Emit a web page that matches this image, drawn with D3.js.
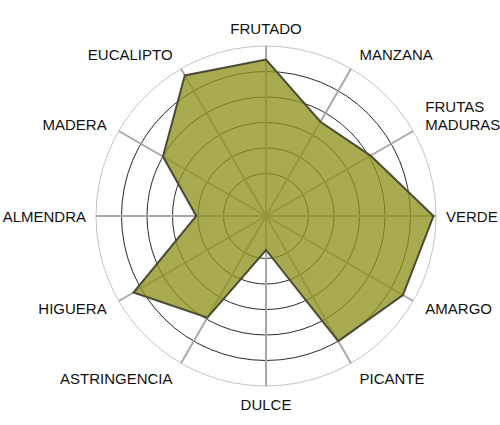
<!DOCTYPE html>
<html>
<head>
<meta charset="utf-8">
<script src="https://cdn.jsdelivr.net/npm/d3@7"></script>
<style>
  body { margin: 0; background: #fff; }
  text { font-family: "Liberation Sans", Arial, sans-serif; }
</style>
</head>
<body>
<div id="chart"></div>
<script>
const attributes = ["FRUTADO", "MANZANA", "FRUTAS MADURAS", "VERDE", "AMARGO", "PICANTE",
  "DULCE", "ASTRINGENCIA", "HIGUERA", "ALMENDRA", "MADERA", "EUCALIPTO"];
const scores = [9.2, 6.4, 7.1, 9.85, 9.3, 8.5, 2.0, 6.9, 9.0, 4.1, 7.0, 9.55];
const ringValues = [2.5, 4, 5.5, 7, 8.5];
const maxValue = 10;

const width = 500;
const height = 425;
const center = { x: 266, y: 216 };
const outerRadius = 170;

const svg = d3
  .select("#chart")
  .append("svg")
  .attr("width", width)
  .attr("height", height)
  .attr("viewBox", [0, 0, width, height]);

const g = svg.append("g").attr("transform", `translate(${center.x},${center.y})`);

const r = d3.scaleLinear().domain([0, maxValue]).range([0, outerRadius]);
const angle = d3
  .scaleLinear()
  .domain([0, attributes.length])
  .range([0, 2 * Math.PI]);

// rings
g.append("g")
  .selectAll("circle")
  .data(ringValues)
  .join("circle")
  .attr("r", (d) => r(d))
  .attr("fill", "none")
  .attr("stroke", "#2a2a2a")
  .attr("stroke-width", 1);

g.append("circle")
  .attr("r", r(maxValue))
  .attr("fill", "none")
  .attr("stroke", "#c4c4c4")
  .attr("stroke-width", 1);

// spokes
g.append("g")
  .selectAll("line")
  .data(attributes)
  .join("line")
  .attr("x1", 0)
  .attr("y1", 0)
  .attr("x2", (d, i) => Math.sin(angle(i)) * r(maxValue))
  .attr("y2", (d, i) => -Math.cos(angle(i)) * r(maxValue))
  .attr("stroke", "#a8a8a8")
  .attr("stroke-width", 2);

// profile
const area = d3
  .lineRadial()
  .angle((d, i) => angle(i))
  .radius((d) => r(d))
  .curve(d3.curveLinearClosed);

g.append("path")
  .datum(scores)
  .attr("d", area)
  .attr("fill", "rgb(142,146,29)")
  .attr("fill-opacity", 0.78)
  .attr("stroke", "#4b4b33")
  .attr("stroke-width", 2)
  .attr("stroke-linejoin", "miter");

// labels
const lineHeight = 18;
g.append("g")
  .attr("font-size", "15px")
  .attr("fill", "#111")
  .selectAll("text")
  .data(attributes)
  .join("text")
  .each(function (d, i) {
    const a = angle(i);
    const s = Math.sin(a);
    const c = Math.cos(a);
    const rad = r(maxValue) + 10 + 8 * Math.abs(c);
    const x = s * rad;
    const y = -c * rad;
    const words = d.split(" ");
    const t = d3.select(this)
      .attr("text-anchor", Math.abs(s) < 0.1 ? "middle" : s > 0 ? "start" : "end")
      .attr("dominant-baseline", "central");
    // multi-word labels stack upward from the anchor point
    words.forEach((w, k) => {
      t.append("tspan")
        .attr("x", x)
        .attr("y", y + (k - (words.length - 1)) * lineHeight)
        .text(w);
    });
  });
</script>
</body>
</html>
